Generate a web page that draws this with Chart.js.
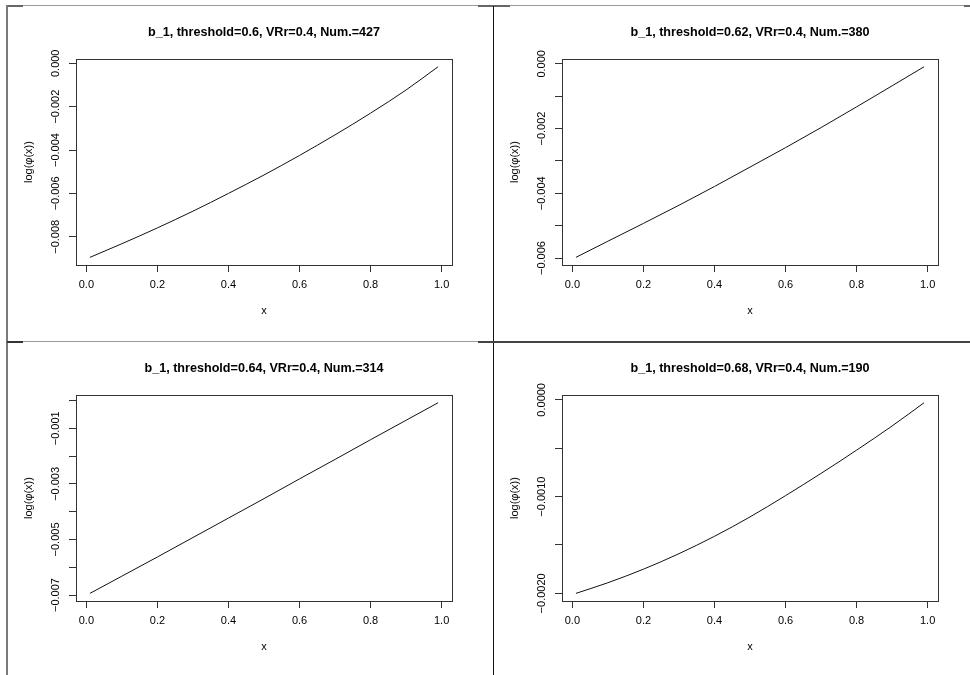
<!DOCTYPE html>
<html>
<head>
<meta charset="utf-8">
<script src="https://cdn.jsdelivr.net/npm/chart.js@4.4.1/dist/chart.umd.min.js"></script>
<style>
  body { margin: 0; background: #fff; }
  #sheet { position: relative; width: 970px; height: 675px; overflow: hidden; background: #fff; }
  #sheet canvas { position: absolute; }
  .rule { position: absolute; }
</style>
</head>
<body>
<div id="sheet">
  <canvas id="p1" width="484" height="335" style="left:0;top:0"></canvas>
  <canvas id="p2" width="484" height="335" style="left:486px;top:0"></canvas>
  <canvas id="p3" width="484" height="335" style="left:0;top:336px"></canvas>
  <canvas id="p4" width="484" height="335" style="left:486px;top:336px"></canvas>

  <!-- panel borders of the 2x2 sheet -->
  <div class="rule" style="left:7px;top:5px;width:963px;height:1px;background:#9a9a9a"></div>
  <div class="rule" style="left:6px;top:5px;width:17px;height:2px;background:#666"></div>
  <div class="rule" style="left:478px;top:5px;width:32px;height:2px;background:#666"></div>
  <div class="rule" style="left:964px;top:5px;width:6px;height:2px;background:#666"></div>
  <div class="rule" style="left:6px;top:5px;width:2px;height:670px;background:#7a7a7a"></div>
  <div class="rule" style="left:493px;top:6px;width:1px;height:669px;background:#111"></div>
  <div class="rule" style="left:7px;top:341px;width:471px;height:1px;background:#9a9a9a"></div>
  <div class="rule" style="left:7px;top:341px;width:16px;height:2px;background:#333"></div>
  <div class="rule" style="left:478px;top:341px;width:492px;height:2px;background:#444"></div>
</div>
<script>
const FONT = '"Liberation Sans", Arial, Helvetica, sans-serif';
const MINUS = "\u2212";

const xs = [0.01, 0.1, 0.2, 0.3, 0.4, 0.5, 0.6, 0.7, 0.8, 0.9, 0.99];

// log(phi(x)) curves for b_1 at each threshold
const logPhiT060 = [-0.00895, -0.00832, -0.00759, -0.00682, -0.00600, -0.00515, -0.00425, -0.00330, -0.00230, -0.00123, -0.00016];
const logPhiT062 = [-0.00598, -0.00548, -0.00493, -0.00437, -0.00379, -0.00319, -0.00259, -0.00197, -0.00133, -0.00068, -0.00009];
const logPhiT064 = [-0.00694, -0.00632, -0.00563, -0.00493, -0.00423, -0.00353, -0.00282, -0.00212, -0.00141, -0.00071, -0.00008];
const logPhiT068 = [-0.00200, -0.00189, -0.00175, -0.00159, -0.00141, -0.00121, -0.00099, -0.00076, -0.00052, -0.00027, -0.00003];

const panelTitles = [
  "b_1, threshold=0.6, VRr=0.4, Num.=427",
  "b_1, threshold=0.62, VRr=0.4, Num.=380",
  "b_1, threshold=0.64, VRr=0.4, Num.=314",
  "b_1, threshold=0.68, VRr=0.4, Num.=190",
];

const xTicks = [0, 0.2, 0.4, 0.6, 0.8, 1.0];
const xTickLabels = ["0.0", "0.2", "0.4", "0.6", "0.8", "1.0"];

const yTicksT060 = [0, -0.002, -0.004, -0.006, -0.008];
const yLabelsT060 = ["0.000", MINUS + "0.002", MINUS + "0.004", MINUS + "0.006", MINUS + "0.008"];
const yTicksT062 = [0, -0.001, -0.002, -0.003, -0.004, -0.005, -0.006];
const yLabelsT062 = ["0.000", "", MINUS + "0.002", "", MINUS + "0.004", "", MINUS + "0.006"];
const yTicksT064 = [0, -0.001, -0.002, -0.003, -0.004, -0.005, -0.006, -0.007];
const yLabelsT064 = ["", MINUS + "0.001", "", MINUS + "0.003", "", MINUS + "0.005", "", MINUS + "0.007"];
const yTicksT068 = [0, -0.0005, -0.001, -0.0015, -0.002];
const yLabelsT068 = ["0.0000", "", MINUS + "0.0010", "", MINUS + "0.0020"];

// R-style axis range: data range widened by 4% on each side
function paddedRange(vals) {
  const lo = Math.min(...vals);
  const hi = Math.max(...vals);
  const d = (hi - lo) * 0.04;
  return [lo - d, hi + d];
}

// box around the plotting region
const plotBox = {
  id: "plotBox",
  afterDatasetsDraw(chart) {
    const { ctx, chartArea: a } = chart;
    ctx.save();
    ctx.strokeStyle = "#333";
    ctx.lineWidth = 1;
    ctx.strokeRect(Math.round(a.left) + 0.5, Math.round(a.top) + 0.5, Math.round(a.width), Math.round(a.height));
    ctx.restore();
  },
};

// y tick labels written parallel to the axis, centred on their ticks
const yTickText = {
  id: "yTickText",
  afterDraw(chart) {
    const s = chart.scales.y;
    const ctx = chart.ctx;
    ctx.save();
    ctx.font = "11px " + FONT;
    ctx.fillStyle = "#000";
    ctx.textAlign = "center";
    ctx.textBaseline = "middle";
    s.ticks.forEach((t) => {
      if (!t.label) return;
      ctx.save();
      ctx.translate(chart.chartArea.left - 20, s.getPixelForValue(t.value));
      ctx.rotate(-Math.PI / 2);
      ctx.fillText(t.label, 0, 0);
      ctx.restore();
    });
    ctx.restore();
  },
};

function drawPanel(canvasId, title, values, yTicks, yLabels) {
  const [xMin, xMax] = paddedRange(xs);
  const [yMin, yMax] = paddedRange(values);
  return new Chart(document.getElementById(canvasId), {
    type: "line",
    data: {
      datasets: [
        {
          data: xs.map((x, i) => ({ x, y: values[i] })),
          borderColor: "#111",
          borderWidth: 1,
          pointRadius: 0,
          fill: false,
          cubicInterpolationMode: "monotone",
        },
      ],
    },
    options: {
      responsive: false,
      animation: false,
      devicePixelRatio: 1,
      layout: { padding: { left: 10, right: 32, top: 6, bottom: 10 } },
      plugins: {
        legend: { display: false },
        tooltip: { enabled: false },
        title: {
          display: true,
          text: title,
          fullSize: false,
          color: "#000",
          font: { family: FONT, size: 12.6, weight: "bold" },
          padding: { top: 19, bottom: 19 },
        },
      },
      scales: {
        x: {
          type: "linear",
          min: xMin,
          max: xMax,
          afterBuildTicks: (s) => { s.ticks = xTicks.map((v) => ({ value: v })); },
          afterFit: (s) => { s.height = 60; },
          border: { display: false },
          grid: { drawOnChartArea: false, drawTicks: true, tickLength: 7, color: "#333" },
          ticks: {
            autoSkip: false,
            maxRotation: 0,
            padding: 6,
            color: "#000",
            font: { family: FONT, size: 11 },
            callback: (v, i) => xTickLabels[i],
          },
          title: {
            display: true,
            text: "x",
            color: "#000",
            font: { family: FONT, size: 11 },
            padding: { top: 0, bottom: 7 },
          },
        },
        y: {
          type: "linear",
          min: yMin,
          max: yMax,
          afterBuildTicks: (s) => { s.ticks = yTicks.map((v) => ({ value: v })); },
          afterFit: (s) => { s.width = 66; },
          border: { display: false },
          grid: { drawOnChartArea: false, drawTicks: true, tickLength: 7, color: "#333" },
          ticks: {
            display: false,
            autoSkip: false,
            callback: (v, i) => yLabels[i],
          },
          title: {
            display: true,
            text: "log(φ(x))",
            color: "#000",
            font: { family: FONT, size: 11 },
            padding: { top: 12, bottom: 0 },
          },
        },
      },
    },
    plugins: [plotBox, yTickText],
  });
}

drawPanel("p1", panelTitles[0], logPhiT060, yTicksT060, yLabelsT060);
drawPanel("p2", panelTitles[1], logPhiT062, yTicksT062, yLabelsT062);
drawPanel("p3", panelTitles[2], logPhiT064, yTicksT064, yLabelsT064);
drawPanel("p4", panelTitles[3], logPhiT068, yTicksT068, yLabelsT068);
</script>
</body>
</html>
